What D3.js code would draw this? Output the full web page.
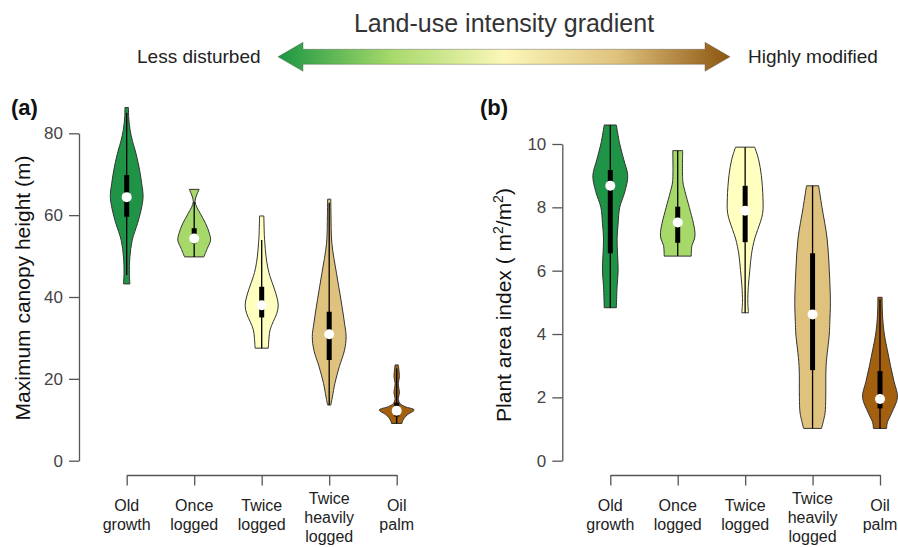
<!DOCTYPE html>
<html><head><meta charset="utf-8">
<script src="https://cdn.jsdelivr.net/npm/d3@7"></script>
<style>body{margin:0;background:#fff}svg{display:block;font-family:"Liberation Sans",Arial,sans-serif}</style>
</head><body><svg id="c" width="898" height="547"></svg>
<script>
// ---------- data ----------
const categories = ["Old growth","Once logged","Twice logged","Twice heavily logged","Oil palm"];
const categoryLabels = [["Old","growth"],["Once","logged"],["Twice","logged"],["Twice","heavily","logged"],["Oil","palm"]];
const categoryColors = ["#1f9447","#a6d96a","#ffffbf","#dfc27d","#a3600f"];
const heightTicks = [0,20,40,60,80];
const paiTicks = [0,2,4,6,8,10];
// violin profiles: [value, relative density]
const heightProfiles = [
  [[86.3,0.10],[84,0.11],[80.8,0.19],[78,0.33],[75.9,0.47],[71.8,0.69],[67.8,0.84],[64.5,0.92],[61.3,0.81],[58,0.61],[53.9,0.31],[49.8,0.18],[45.8,0.15],[43.2,0.18]],
  [[66.3,0.28],[63.3,0.05],[60.4,0.34],[58,0.64],[55.6,0.85],[53.9,0.92],[51.9,0.74],[49.8,0.54]],
  [[59.8,0.12],[55,0.15],[53,0.18],[50,0.24],[47,0.35],[45,0.47],[42,0.71],[40,0.85],[38,0.93],[36,0.85],[34,0.65],[32,0.47],[30,0.41],[27.5,0.37]],
  [[63.9,0.09],[60,0.1],[53.1,0.15],[45.8,0.41],[39.3,0.66],[33.6,0.86],[30.3,0.95],[27,0.86],[23,0.57],[18.9,0.32],[15.6,0.18],[13.6,0.09]],
  [[23.4,0.09],[20.5,0.15],[18.9,0.09],[16.5,0.15],[15.2,0.09],[14,0.18],[13.2,0.47],[12.4,0.98],[11.2,0.59],[9.9,0.35],[9.1,0.29]]
];
const paiProfiles = [
  [[10.6,0.34],[10,0.53],[9.5,0.76],[9.0,0.98],[8.5,0.82],[8,0.53],[7.5,0.44],[7,0.38],[6.5,0.41],[6,0.44],[5.5,0.38],[4.83,0.34]],
  [[9.79,0.28],[8.8,0.29],[8.5,0.41],[8.0,0.65],[7.5,0.88],[7.2,0.97],[7.0,0.94],[6.8,0.8],[6.46,0.76]],
  [[9.9,0.54],[9.5,0.76],[9.0,0.91],[8.3,1.0],[7.8,0.98],[7.3,0.71],[7.0,0.53],[6.5,0.35],[6.0,0.26],[5.5,0.18],[5.0,0.15],[4.67,0.19]],
  [[8.68,0.34],[8.0,0.53],[7.0,0.82],[6.0,0.94],[5.0,1.0],[4.4,0.97],[4.0,0.94],[3.0,0.76],[2.0,0.74],[1.5,0.7],[1.02,0.5]],
  [[5.16,0.12],[5.0,0.12],[4.5,0.15],[4.0,0.24],[3.5,0.41],[3.0,0.59],[2.5,0.79],[2.0,0.98],[1.5,0.65],[1.2,0.41],[1.02,0.37]]
];
// [lower whisker, q1, median, q3, upper whisker]
const heightStats = [[45.4,59.6,64.4,69.8,85],[49.8,53.1,54.3,56.8,63.3],[27.5,35,38,42.5,53.9],[13.6,24.6,30.9,36.4,63],[9.1,10.8,12.2,14.2,22.5]];
const paiStats = [[4.83,6.55,8.68,9.18,10.6],[6.46,6.88,7.52,8.02,9.79],[4.67,6.9,7.89,8.68,9.9],[1.02,2.86,4.62,6.55,8.68],[1.02,1.65,1.95,2.83,5.1]];
const gradientColors = ["#1a9641","#a6d96a","#fbf7b8","#dfc27d","#8c5510"];

// ---------- drawing ----------
const svg = d3.select("#c");
const txt = "#333";

// header
svg.append("text").attr("x",504).attr("y",31.5).attr("text-anchor","middle")
  .attr("font-size",25).attr("fill",txt).text("Land-use intensity gradient");
svg.append("text").attr("x",137).attr("y",62.5).attr("font-size",19).attr("fill","#222").text("Less disturbed");
svg.append("text").attr("x",748).attr("y",62.5).attr("font-size",19).attr("fill","#222").text("Highly modified");

const defs = svg.append("defs");
const lg = defs.append("linearGradient").attr("id","grad").attr("x1","0%").attr("x2","100%");
gradientColors.forEach((c,i)=>lg.append("stop").attr("offset",(i/(gradientColors.length-1)*100)+"%").attr("stop-color",c));
const ax = d3.scaleLinear().domain([0,1]).range([278,730]);
const cy = 56.8, sh = 7.5, hh = 14.5, hl = 25;
const arrowPts = [
  [ax(0),cy],[ax(0)+hl,cy-hh],[ax(0)+hl,cy-sh],[ax(1)-hl,cy-sh],[ax(1)-hl,cy-hh],[ax(1),cy],
  [ax(1)-hl,cy+hh],[ax(1)-hl,cy+sh],[ax(0)+hl,cy+sh],[ax(0)+hl,cy+hh]
];
svg.append("path").attr("d",d3.line()(arrowPts)+"Z").attr("fill","url(#grad)")
  .attr("stroke","#555").attr("stroke-opacity",0.5).attr("stroke-width",0.8);

function panel(opt){
  const g = svg.append("g");
  const y = d3.scaleLinear().domain(opt.domain).range([460.7,opt.topPx]);
  const x = d3.scalePoint().domain(categories).range(opt.xRange);
  const w = d3.scaleLinear().domain([0,1]).range([0,17.8]);
  // y axis
  const yAxis = d3.axisLeft(y).tickValues(opt.ticks).tickSize(10).tickPadding(6).tickSizeOuter(0);
  const ya = g.append("g").attr("transform",`translate(${opt.yAxisX},0)`).call(yAxis);
  ya.select(".domain").attr("stroke","#555").attr("stroke-width",1.3);
  ya.selectAll(".tick line").attr("stroke","#555").attr("stroke-width",1.3);
  ya.selectAll(".tick text").attr("font-size",17).attr("fill","#444").attr("font-family","Liberation Sans, Arial, sans-serif");
  // x axis
  const xAxis = d3.axisBottom(x).tickSize(10.5).tickSizeOuter(0).tickFormat("");
  const xa = g.append("g").attr("transform","translate(0,475)").call(xAxis);
  xa.select(".domain").attr("stroke","#555").attr("stroke-width",1.3);
  xa.selectAll(".tick line").attr("stroke","#555").attr("stroke-width",1.3);
  categories.forEach((c,i)=>{
    const lines = categoryLabels[i];
    const first = 517.2 - (lines.length-1)*6.5;
    const t = g.append("text").attr("text-anchor","middle").attr("font-size",16).attr("fill","#222");
    lines.forEach((l,j)=>t.append("tspan").attr("x",x(c)).attr("y",first+j*19).text(l));
  });
  // violins
  const area = d3.area().curve(d3.curveCatmullRom.alpha(0.5))
    .y(d=>y(d[0]));
  categories.forEach((c,i)=>{
    const cx = x(c);
    area.x0(d=>cx-w(d[1])).x1(d=>cx+w(d[1]));
    g.append("path").attr("d",area(opt.profiles[i])).attr("fill",categoryColors[i])
      .attr("stroke","#333").attr("stroke-width",1);
    const s = opt.stats[i];
    g.append("line").attr("x1",cx).attr("x2",cx).attr("y1",y(s[0])).attr("y2",y(s[4]))
      .attr("stroke","#000").attr("stroke-width",1.3);
    g.append("line").attr("x1",cx).attr("x2",cx).attr("y1",y(s[1])).attr("y2",y(s[3]))
      .attr("stroke","#000").attr("stroke-width",5);
    g.append("circle").attr("cx",cx).attr("cy",y(s[2])).attr("r",5).attr("fill","#fff");
  });
  // panel label
  svg.append("text").attr("x",opt.labelX).attr("y",115).attr("font-size",22).attr("font-weight","bold")
    .attr("fill","#111").text(opt.label);
  // y title
  const yt = svg.append("text").attr("transform",`translate(${opt.titleX},${opt.titleY}) rotate(-90)`)
    .attr("text-anchor","middle").attr("font-size",21).attr("fill","#111");
  opt.title(yt);
}

panel({domain:[0,80],topPx:133.3,ticks:heightTicks,xRange:[126.7,396.7],yAxisX:79,
  profiles:heightProfiles,stats:heightStats,label:"(a)",labelX:11,titleX:30,titleY:288,
  title:t=>t.text("Maximum canopy height (m)")});
panel({domain:[0,10],topPx:144,ticks:paiTicks,xRange:[610.3,880],yAxisX:562.3,
  profiles:paiProfiles,stats:paiStats,label:"(b)",labelX:480,titleX:511,titleY:305,
  title:t=>{
    t.append("tspan").text("Plant area index ( m");
    t.append("tspan").attr("font-size",14).attr("dy",-8).text("2");
    t.append("tspan").attr("dy",8).text("/m");
    t.append("tspan").attr("font-size",14).attr("dy",-8).text("2");
    t.append("tspan").attr("dy",8).text(")");
  }});
</script></body></html>
